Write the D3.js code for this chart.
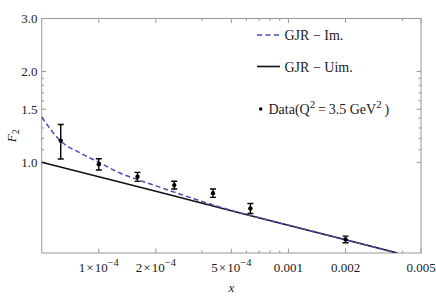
<!DOCTYPE html>
<html>
<head>
<meta charset="utf-8">
<script src="https://cdn.jsdelivr.net/npm/d3@7"></script>
<style>
body { margin: 0; background: #fff; }
svg text { font-family: 'Liberation Serif', 'Times New Roman', Times, serif; fill: #222; }
</style>
</head>
<body>
<svg id="chart" width="436" height="297"></svg>
<script>
// data
const dataX = [6.3e-5, 1.0e-4, 1.6e-4, 2.5e-4, 4.0e-4, 6.3e-4, 2.0e-3];
const dataF2 = [1.18, 0.985, 0.895, 0.84, 0.79, 0.703, 0.555];
const dataErr = [0.155, 0.042, 0.031, 0.025, 0.025, 0.027, 0.014];

const uimX = [5e-5, 1e-4, 2e-4, 5e-4, 1e-3, 2e-3, 3.75e-3];
const uimF2 = [1.0, 0.895, 0.801, 0.691, 0.618, 0.553, 0.5];

const imX = [5e-5, 6.3e-5, 8e-5, 1e-4, 1.3e-4, 1.6e-4, 2e-4, 2.5e-4, 3.2e-4, 4e-4, 5e-4, 1e-3, 2e-3, 3.75e-3];
const imF2 = [1.413, 1.176, 1.073, 1.0, 0.92, 0.876, 0.835, 0.796, 0.755, 0.722, 0.692, 0.618, 0.553, 0.5];

const xMajor = [1e-4, 2e-4, 5e-4, 1e-3, 2e-3, 5e-3];
const xMajorLabels = [['1\u200a×\u200a10', '−4'], ['2\u200a×\u200a10', '−4'], ['5\u200a×\u200a10', '−4'], ['0.001'], ['0.002'], ['0.005']];
const xMinor = [3.5e-4, 6e-4, 7e-4, 8e-4, 9e-4, 4e-3];
const yMajor = [1.0, 1.5, 2.0, 3.0];
const yMinor = [1.1, 1.2, 1.3, 1.4, 1.6, 1.7, 1.8, 1.9];

const margin = { left: 41.7, right: 15, top: 18.5, bottom: 44 };
const width = 436, height = 297;
const svg = d3.select('#chart');

const x = d3.scaleLog().domain([5e-5, 5e-3]).range([margin.left, width - margin.right]);
const y = d3.scaleLog().domain([0.5, 3.0]).range([height - margin.bottom, margin.top]);

const frameColor = '#999';
const x0 = x.range()[0], x1 = x.range()[1], y0 = y.range()[0], y1 = y.range()[1];

svg.append('defs').append('clipPath').attr('id', 'clip')
	.append('rect').attr('x', x0).attr('y', y1).attr('width', x1 - x0).attr('height', y0 - y1);

// frame
svg.append('rect')
	.attr('x', x0).attr('y', y1).attr('width', x1 - x0).attr('height', y0 - y1)
	.attr('fill', 'none').attr('stroke', frameColor).attr('stroke-width', 1);

// ticks, all pointing inward
const ticks = svg.append('g').attr('stroke', frameColor).attr('stroke-width', 1);
function xTick(v, len) {
	ticks.append('line').attr('x1', x(v)).attr('x2', x(v)).attr('y1', y0).attr('y2', y0 - len);
	ticks.append('line').attr('x1', x(v)).attr('x2', x(v)).attr('y1', y1).attr('y2', y1 + len);
}
function yTick(v, len) {
	ticks.append('line').attr('y1', y(v)).attr('y2', y(v)).attr('x1', x0).attr('x2', x0 + len);
	ticks.append('line').attr('y1', y(v)).attr('y2', y(v)).attr('x1', x1).attr('x2', x1 - len);
}
xMajor.forEach(v => xTick(v, 4.5));
xMinor.forEach(v => xTick(v, 2.5));
yMajor.forEach(v => yTick(v, 4.5));
yMinor.forEach(v => yTick(v, 2.5));

// tick labels
xMajor.forEach((v, i) => {
	const t = svg.append('text')
		.attr('x', x(v)).attr('y', 271.5)
		.attr('text-anchor', 'middle')
		.attr('font-size', 13);
	const lab = xMajorLabels[i];
	t.append('tspan').text(lab[0]);
	if (lab[1]) {
		t.append('tspan').attr('dy', -5.5).attr('font-size', 10.5).text(lab[1]);
	}
});
yMajor.forEach(v => {
	svg.append('text')
		.attr('x', 37.5).attr('y', y(v) + 4.5)
		.attr('text-anchor', 'end')
		.attr('font-size', 13)
		.text(d3.format('.1f')(v));
});

// axis labels
svg.append('text')
	.attr('x', (x0 + x1) / 2).attr('y', 292)
	.attr('text-anchor', 'middle')
	.attr('font-size', 13).attr('font-style', 'italic')
	.text('x');
const yl = svg.append('text')
	.attr('transform', `translate(15.5, ${(y0 + y1) / 2}) rotate(-90)`)
	.attr('text-anchor', 'middle')
	.attr('font-size', 13);
yl.append('tspan').attr('font-style', 'italic').text('F');
yl.append('tspan').attr('dy', 3).attr('font-size', 10).text('2');

// curves
const line = d3.line().x(d => x(d[0])).y(d => y(d[1]));
const plot = svg.append('g').attr('clip-path', 'url(#clip)');

plot.append('path')
	.datum(d3.zip(uimX, uimF2))
	.attr('d', line)
	.attr('fill', 'none').attr('stroke', '#111').attr('stroke-width', 1.6);

plot.append('path')
	.datum(d3.zip(imX, imF2))
	.attr('d', line.curve(d3.curveMonotoneX))
	.attr('fill', 'none').attr('stroke', '#4b4bb0').attr('stroke-width', 1.5)
	.attr('stroke-dasharray', '5,3');

// data with error bars
const pts = plot.append('g').selectAll('g')
	.data(d3.zip(dataX, dataF2, dataErr))
	.join('g');
pts.append('line')
	.attr('x1', d => x(d[0])).attr('x2', d => x(d[0]))
	.attr('y1', d => y(d[1] + d[2])).attr('y2', d => y(d[1] - d[2]))
	.attr('stroke', '#000').attr('stroke-width', 1.4);
[1, -1].forEach(s => {
	pts.append('line')
		.attr('x1', d => x(d[0]) - 3).attr('x2', d => x(d[0]) + 3)
		.attr('y1', d => y(d[1] + s * d[2])).attr('y2', d => y(d[1] + s * d[2]))
		.attr('stroke', '#000').attr('stroke-width', 1.4);
});
pts.append('circle')
	.attr('cx', d => x(d[0])).attr('cy', d => y(d[1]))
	.attr('r', 2.2).attr('fill', '#000');

// legend
const legend = svg.append('g');
legend.append('line').attr('x1', 257).attr('x2', 280).attr('y1', 35).attr('y2', 35)
	.attr('stroke', '#4b4bb0').attr('stroke-width', 1.5).attr('stroke-dasharray', '5,3.5');
legend.append('text').attr('x', 284.5).attr('y', 40).attr('font-size', 14).text('GJR − Im.');
legend.append('line').attr('x1', 257).attr('x2', 280).attr('y1', 66.5).attr('y2', 66.5)
	.attr('stroke', '#111').attr('stroke-width', 1.6);
legend.append('text').attr('x', 284.5).attr('y', 71.5).attr('font-size', 14).text('GJR − Uim.');
legend.append('circle').attr('cx', 260.7).attr('cy', 109).attr('r', 1.8).attr('fill', '#000');
const lt = legend.append('text').attr('x', 268.5).attr('y', 114).attr('font-size', 14);
lt.append('tspan').text('Data(Q');
lt.append('tspan').attr('dy', -6).attr('font-size', 11).text('2');
lt.append('tspan').attr('dy', 6).text('\u2009=\u20093.5 GeV');
lt.append('tspan').attr('dy', -6).attr('font-size', 11).text('2');
lt.append('tspan').attr('dy', 6).text('\u2009)');
</script>
</body>
</html>
